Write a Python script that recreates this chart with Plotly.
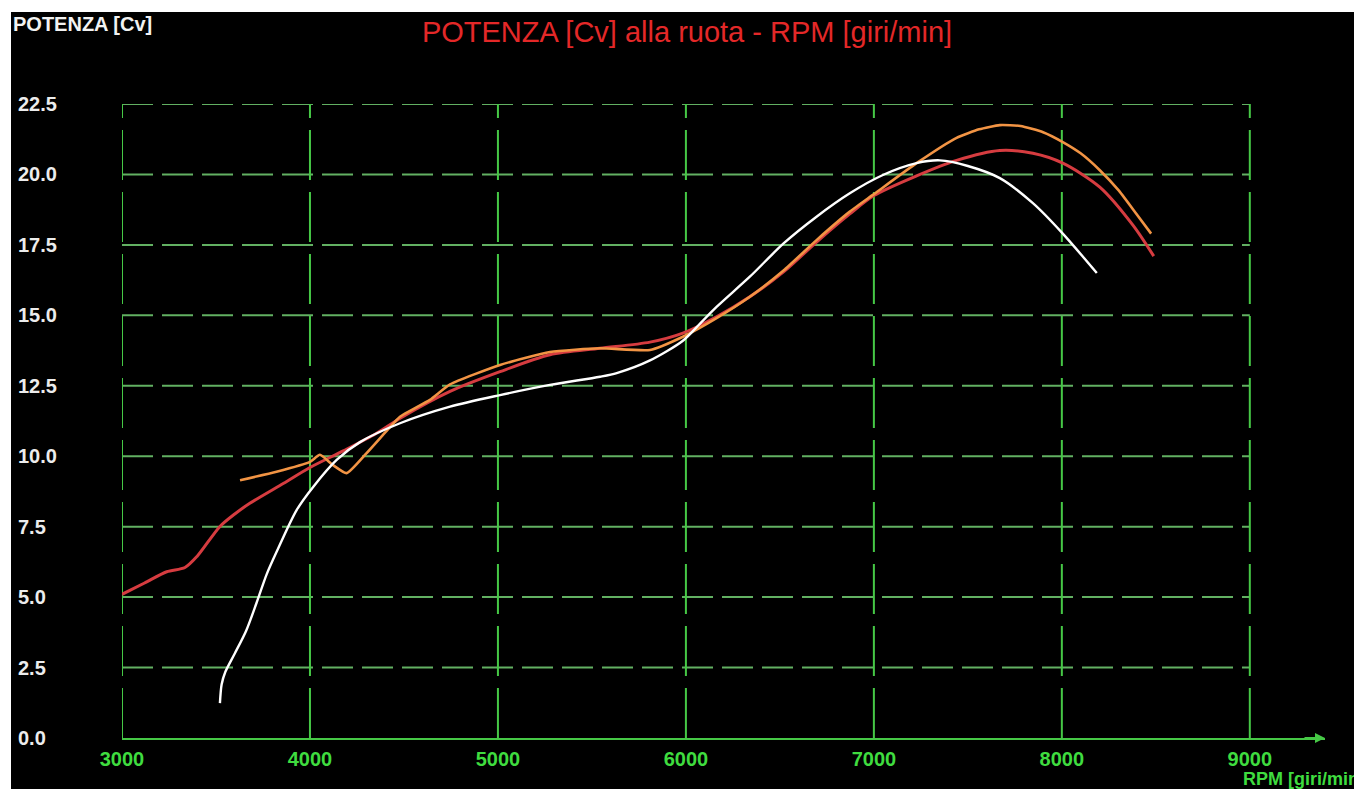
import plotly.graph_objects as go

# ---- data ----
x_ticks = [3000, 4000, 5000, 6000, 7000, 8000, 9000]
y_ticks = [0.0, 2.5, 5.0, 7.5, 10.0, 12.5, 15.0, 17.5, 20.0, 22.5]
y_tick_labels = ["0.0", "2.5", "5.0", "7.5", "10.0", "12.5", "15.0", "17.5", "20.0", "22.5"]

red_rpm = [3000, 3120, 3238, 3335, 3400, 3520, 3600, 3680, 3860, 4000, 4180, 4350, 4480,
           4745, 5011, 5277, 5543, 5809, 5984, 6163, 6340, 6521, 6695, 6872, 7000, 7227,
           7440, 7670, 7846, 8005, 8202, 8378, 8489]
red_cv = [5.1, 5.5, 5.9, 6.05, 6.45, 7.5, 7.95, 8.33, 9.04, 9.6, 10.2, 10.8, 11.35,
          12.3, 13.0, 13.6, 13.83, 14.05, 14.37, 14.95, 15.66, 16.55, 17.6, 18.6, 19.25, 19.95,
          20.5, 20.85, 20.75, 20.4, 19.55, 18.2, 17.1]

orange_rpm = [3628, 3822, 4000, 4053, 4120, 4195, 4300, 4408, 4479, 4638, 4745, 5011, 5277,
              5543, 5809, 5984, 6163, 6340, 6521, 6695, 6872, 7000, 7227, 7440, 7560, 7670,
              7780, 7900, 8005, 8100, 8202, 8300, 8380, 8475]
orange_cv = [9.15, 9.45, 9.8, 10.05, 9.7, 9.4, 10.1, 10.9, 11.4, 12.0, 12.55, 13.24, 13.7,
             13.83, 13.77, 14.24, 14.9, 15.66, 16.6, 17.67, 18.68, 19.3, 20.4, 21.3, 21.6, 21.75,
             21.72, 21.5, 21.15, 20.75, 20.15, 19.45, 18.75, 17.9]

white_rpm = [3521, 3530, 3550, 3600, 3660, 3716, 3769, 3822, 3929, 4018, 4142, 4266, 4479,
             4745, 5011, 5277, 5543, 5632, 5809, 5984, 6074, 6163, 6340, 6521, 6695, 6872,
             7048, 7227, 7351, 7500, 7670, 7846, 8005, 8186]
white_cv = [1.24, 1.9, 2.35, 3.0, 3.8, 4.8, 5.8, 6.6, 8.09, 8.92, 9.87, 10.5, 11.17,
            11.76, 12.17, 12.53, 12.82, 12.95, 13.4, 14.1, 14.7, 15.3, 16.37, 17.56, 18.5, 19.33,
            19.98, 20.4, 20.5, 20.3, 19.87, 18.98, 17.9, 16.5]

# ---- layout constants ----
W, H = 1354, 789
ML, MR, MT, MB = 14, 0, 104, 51
PW = W - ML - MR
PH = H - MT - MB
X_END = 9400  # axis extends past last tick to the arrow

def px_x(p):  # pixel -> paper fraction
    return (p - ML) / PW

def px_y(p):
    return (H - MB - p) / PH

GREEN_H = "#62b062"
GREEN_V = "#46c846"
GREEN_TXT = "#3fdc3f"
FONT = "Liberation Sans"

fig = go.Figure()
fig.add_trace(go.Scatter(x=red_rpm, y=red_cv, mode="lines",
                         line=dict(color="#d63c40", width=3, shape="spline", smoothing=0.8),
                         showlegend=False, hoverinfo="skip"))
fig.add_trace(go.Scatter(x=orange_rpm, y=orange_cv, mode="lines",
                         line=dict(color="#f29444", width=2.6, shape="spline", smoothing=0.5),
                         showlegend=False, hoverinfo="skip"))
fig.add_trace(go.Scatter(x=white_rpm, y=white_cv, mode="lines",
                         line=dict(color="#ffffff", width=2.4, shape="spline", smoothing=0.8),
                         showlegend=False, hoverinfo="skip"))

shapes = []
# horizontal dashed grid
for v in y_ticks[1:]:
    shapes.append(dict(type="line", xref="x", yref="y", x0=x_ticks[0], x1=x_ticks[-1],
                       y0=v, y1=v, line=dict(color=GREEN_H, width=2, dash="31px,9px"),
                       layer="below"))
# vertical dashed grid
for r in x_ticks:
    shapes.append(dict(type="line", xref="x", yref="y", x0=r, x1=r,
                       y0=y_ticks[0], y1=y_ticks[-1],
                       line=dict(color=GREEN_V, width=2, dash="50px,12px"), layer="below"))
# white strips at the top and left edges of the picture
shapes.append(dict(type="rect", xref="paper", yref="paper", x0=px_x(0), x1=px_x(W),
                   y0=px_y(12), y1=px_y(0), fillcolor="white", line=dict(width=0)))
shapes.append(dict(type="rect", xref="paper", yref="paper", x0=px_x(0), x1=px_x(11),
                   y0=px_y(H), y1=px_y(0), fillcolor="white", line=dict(width=0)))

annotations = [
    dict(text="<b>POTENZA [Cv]</b>", xref="paper", yref="paper", x=px_x(11), y=px_y(24),
         xanchor="left", yanchor="middle", showarrow=False,
         font=dict(family=FONT, size=20, color="#f2f2f2")),
    dict(text="<b>RPM [giri/min]</b>", xref="paper", yref="paper", x=px_x(1241), y=px_y(779),
         xanchor="left", yanchor="middle", showarrow=False,
         font=dict(family=FONT, size=18, color=GREEN_TXT)),
    # arrow head at the end of the RPM axis
    dict(text="", x=X_END, y=0, xref="x", yref="y", ax=-22, ay=0, showarrow=True,
         arrowhead=2, arrowsize=1, arrowwidth=2, arrowcolor=GREEN_V),
]

fig.update_layout(
    template="none",
    width=W, height=H,
    margin=dict(l=ML, r=MR, t=MT, b=MB, pad=0, autoexpand=False),
    paper_bgcolor="black", plot_bgcolor="black",
    title=dict(text="POTENZA [Cv] alla ruota - RPM [giri/min]", x=687 / W, y=1 - 32 / H,
               xanchor="center", yanchor="middle", xref="container", yref="container",
               font=dict(family=FONT, size=29, color="#e42828")),
    shapes=shapes, annotations=annotations,
    xaxis=dict(range=[x_ticks[0], X_END], domain=[px_x(122), px_x(1325)], automargin=False,
               tickvals=x_ticks, ticktext=[str(t) for t in x_ticks],
               showgrid=False, zeroline=False, showline=True, linecolor=GREEN_V, linewidth=2,
               ticks="", ticklabelstandoff=2,
               tickfont=dict(family=FONT, size=20, color=GREEN_TXT, weight="bold")),
    yaxis=dict(range=[y_ticks[0], y_ticks[-1]], anchor="free", position=0, automargin=False,
               tickvals=y_ticks, ticktext=y_tick_labels, ticklabelposition="inside",
               ticklabeloverflow="allow",
               showgrid=False, zeroline=False, showline=False, ticks="",
               tickfont=dict(family=FONT, size=20, color="#ececec", weight="bold")),
)

fig.write_html("out.html", config={"displayModeBar": False},
               post_script="document.body.style.margin='0';")
